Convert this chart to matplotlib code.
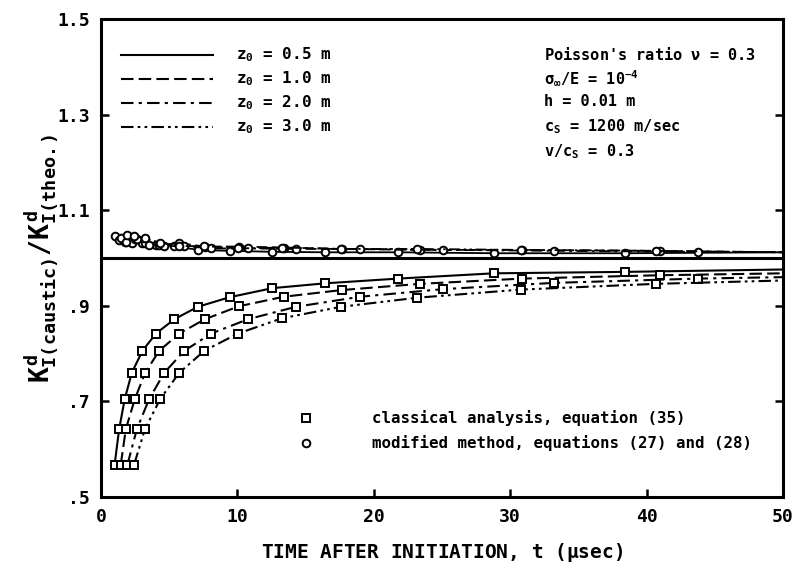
import matplotlib.pyplot as plt
from matplotlib.lines import Line2D

plt.rcParams['font.family'] = 'DejaVu Sans Mono'
plt.rcParams['font.weight'] = 'bold'
plt.rcParams['axes.labelweight'] = 'bold'
plt.rcParams['mathtext.fontset'] = 'custom'
plt.rcParams['mathtext.rm'] = 'DejaVu Sans Mono:bold'
plt.rcParams['mathtext.it'] = 'DejaVu Sans Mono:bold'
plt.rcParams['mathtext.bf'] = 'DejaVu Sans Mono:bold'
plt.rcParams['mathtext.sf'] = 'DejaVu Sans Mono:bold'

# classical analysis, equation (35) -- squares
t1 = [1.0, 1.33, 1.74, 2.26, 3.04, 4.03, 5.38, 7.1, 9.43, 12.57, 16.4, 21.8, 28.8, 38.4]
k1 = [0.568, 0.642, 0.705, 0.760, 0.806, 0.842, 0.872, 0.898, 0.918, 0.937, 0.947, 0.957, 0.968, 0.971]
t2 = [1.45, 1.82, 2.48, 3.24, 4.27, 5.74, 7.62, 10.1, 13.4, 17.65, 23.4, 30.9, 41.0]
k2 = [0.568, 0.642, 0.705, 0.760, 0.806, 0.842, 0.872, 0.899, 0.919, 0.933, 0.946, 0.957, 0.964]
t3 = [1.94, 2.63, 3.53, 4.64, 6.11, 8.08, 10.78, 14.3, 19.0, 25.1, 33.2, 43.8]
k3 = [0.568, 0.642, 0.705, 0.760, 0.806, 0.842, 0.872, 0.898, 0.919, 0.935, 0.948, 0.957]
t4 = [2.43, 3.22, 4.34, 5.74, 7.58, 10.04, 13.28, 17.6, 23.2, 30.8, 40.7]
k4 = [0.568, 0.642, 0.705, 0.760, 0.806, 0.842, 0.874, 0.898, 0.917, 0.934, 0.946]

# modified method, equations (27) and (28) -- circles
m1 = [1.046, 1.038, 1.034, 1.031, 1.031, 1.027, 1.025, 1.017, 1.015, 1.013, 1.012, 1.012, 1.010, 1.010]
m2 = [1.041, 1.034, 1.039, 1.032, 1.027, 1.031, 1.024, 1.024, 1.022, 1.019, 1.017, 1.017, 1.015]
m3 = [1.048, 1.039, 1.027, 1.025, 1.025, 1.020, 1.020, 1.019, 1.019, 1.017, 1.015, 1.013]
m4 = [1.046, 1.041, 1.032, 1.025, 1.025, 1.020, 1.022, 1.019, 1.019, 1.017, 1.015]

# curve values at t = 50
t_end = 50
k_end = [0.976, 0.968, 0.960, 0.953]
m_end = [1.012, 1.012, 1.012, 1.012]

labels = ['0.5', '1.0', '2.0', '3.0']
styles = ['-', (0, (6, 2.5)), (0, (6, 2.5, 1.5, 2.5)), (0, (6, 2, 1.3, 2, 1.3, 2))]

fig = plt.figure(figsize=(7.99, 5.73), dpi=100)
ax = fig.add_axes([0.1264, 0.1326, 0.8536, 0.8342])

series = [(t1, k1, m1), (t2, k2, m2), (t3, k3, m3), (t4, k4, m4)]
for i, (t, k, m) in enumerate(series):
    ax.plot(t + [t_end], k + [k_end[i]], color='black', lw=1.5, ls=styles[i])
    ax.plot(t + [t_end], m + [m_end[i]], color='black', lw=1.3, ls=styles[i])
    ax.plot(t, k, ls='none', marker='s', ms=5.5, mfc='white', mec='black', mew=1.4)
    ax.plot(t, m, ls='none', marker='o', ms=5.5, mfc='white', mec='black', mew=1.4)

ax.axhline(1.0, color='black', lw=2.2)

ax.set_xlim(0, 50)
ax.set_ylim(0.5, 1.5)
ax.set_xticks([0, 10, 20, 30, 40, 50])
ax.set_yticks([0.5, 0.7, 0.9, 1.1, 1.3, 1.5])
ax.set_yticklabels(['.5', '.7', '.9', '1.1', '1.3', '1.5'])
ax.tick_params(direction='in', length=6, width=1.8, labelsize=13, pad=8,
               right=True, top=False)
for s in ax.spines.values():
    s.set_linewidth(2.2)

ax.set_xlabel(r'TIME AFTER INITIATION, t ($\mu$sec)', fontsize=14, labelpad=11)
ax.set_ylabel(r'$K^{d}_{I(caustic)}/K^{d}_{I(theo.)}$', fontsize=19, labelpad=-2)

# line style legend
for i, lab in enumerate(labels):
    y = 1.425 - i * 0.05
    ax.add_line(Line2D([1.5, 8.2], [y, y], color='black', lw=1.5, ls=styles[i]))
    ax.text(9.9, y, r'z$_0$ = ' + lab + ' m', fontsize=11.5, va='center')

# parameter block
params = [r"Poisson's ratio $\nu$ = 0.3",
          r'$\sigma_{\infty}$/E = 10$^{-4}$',
          'h = 0.01 m',
          r'c$_S$ = 1200 m/sec',
          r'v/c$_S$ = 0.3']
pys = [1.425, 1.377, 1.328, 1.275, 1.222]
for p, y in zip(params, pys):
    ax.text(32.5, y, p, fontsize=11, va='center')

# marker legend
ax.plot([15.0], [0.665], ls='none', marker='s', ms=5.5, mfc='white', mec='black', mew=1.4)
ax.plot([15.0], [0.613], ls='none', marker='o', ms=5.5, mfc='white', mec='black', mew=1.4)
ax.text(19.9, 0.665, 'classical analysis, equation (35)', fontsize=11.3, va='center')
ax.text(19.9, 0.613, 'modified method, equations (27) and (28)', fontsize=11.3, va='center')

fig.savefig('out.png', dpi=100)
